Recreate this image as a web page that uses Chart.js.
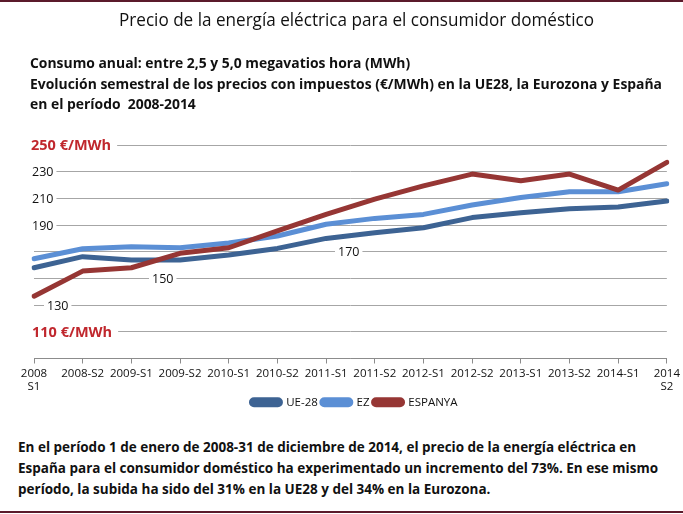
<!DOCTYPE html>
<html lang="es">
<head>
<meta charset="UTF-8" />
<title>Precio de la energía eléctrica</title>
<script src="https://cdn.jsdelivr.net/npm/chart.js"></script>
<style>
  html, body { margin: 0; padding: 0; background: #fff; }
  body { width: 683px; height: 514px; position: relative; overflow: hidden;
         font-family: "Open Sans", sans-serif; color: #111; }
  .frame { position: absolute; left: 0; width: 683px; height: 2px; background: #5b1a2b; }
  .txt { position: absolute; white-space: nowrap; z-index: 2; line-height: 1; transform-origin: 0 50%; }
  #title { left: 119px; top: 10px; font-size: 18.5px; }
  .sub { font-weight: bold; font-size: 15px; left: 30px; }
  .foot { font-weight: bold; font-size: 15px; left: 18px; }
  #wrap { position: absolute; left: 0; top: 0; width: 683px; height: 418px; }
</style>
</head>
<body>
  <div class="frame" style="top:0"></div>
  <div class="frame" style="top:511px"></div>

  <div class="txt" id="title">Precio de la energía eléctrica para el consumidor doméstico</div>
  <div class="txt sub" style="top:55px">Consumo anual: entre 2,5 y 5,0 megavatios hora (MWh)</div>
  <div class="txt sub" id="subRef" style="top:76px">Evolución semestral de los precios con impuestos (€/MWh) en la UE28, la Eurozona y España</div>
  <div class="txt sub" style="top:96px">en el período&nbsp; 2008-2014</div>

  <div class="txt foot" style="top:439px">En el período 1 de enero de 2008-31 de diciembre de 2014, el precio de la energía eléctrica en</div>
  <div class="txt foot" id="footRef" style="top:460px">España para el consumidor doméstico ha experimentado un incremento del 73%. En ese mismo</div>
  <div class="txt foot" style="top:481px">período, la subida ha sido del 31% en la UE28 y del 34% en la Eurozona.</div>

  <div id="wrap"><canvas id="chart"></canvas></div>

<script>
// datos (€/MWh)
const periodos = [['2008', 'S1'], '2008-S2', '2009-S1', '2009-S2', '2010-S1', '2010-S2', '2011-S1',
  '2011-S2', '2012-S1', '2012-S2', '2013-S1', '2013-S2', '2014-S1', ['2014', 'S2']];
const ue28    = [158, 166.3, 163.8, 163.8, 167.5, 172.5, 180, 184.3, 188, 195.6, 199.3, 202.3, 203.6, 208];
const ez      = [164.7, 172.3, 173.8, 173, 176.5, 181.8, 190.6, 195, 198, 205, 210.6, 215, 215, 221];
const espanya = [136.7, 155.5, 158, 168.8, 173, 185.6, 198, 209.4, 219.4, 228.2, 223.2, 228.2, 216.2, 237];
const yValores = [110, 130, 150, 170, 190, 210, 230, 250];
const yTextos  = ['110 €/MWh', '130', '150', '170', '190', '210', '230', '250 €/MWh'];

const FONT = '"Open Sans", sans-serif';
const ROJO = '#c0272d';

// estrechar los textos (la fuente original es más condensada) hasta el ancho del original
function ajustar(el, ancho, clase) {
  const k = ancho / el.getBoundingClientRect().width;
  document.querySelectorAll(clase).forEach(e => e.style.transform = 'scaleX(' + k + ')');
}
ajustar(document.getElementById('title'), 475, '#title');
ajustar(document.getElementById('subRef'), 632, '.sub');
ajustar(document.getElementById('footRef'), 640, '.foot');

// posición horizontal de cada etiqueta del eje Y (como en el original)
const yLabelX = { 110: 32, 130: 47, 150: 152, 170: 338, 190: 32, 210: 32, 230: 32, 250: 31 };

const etiquetasY = {
  id: 'etiquetasY',
  beforeDatasetsDraw(chart) {
    const ctx = chart.ctx;
    const y = chart.scales.y;
    ctx.save();
    ctx.textBaseline = 'middle';
    yValores.forEach((v, i) => {
      const txt = yTextos[i];
      const grande = txt.includes('€');
      ctx.font = (grande ? 'bold 14.5px ' : '12.5px ') + FONT;
      const py = y.getPixelForValue(v);
      const px = yLabelX[v];
      const w = ctx.measureText(txt).width;
      ctx.fillStyle = '#fff';
      ctx.fillRect(px - 3, py - 3, w + (grande ? 9 : 6), 6);
      ctx.fillStyle = grande ? ROJO : '#111';
      ctx.fillText(txt, px, py + 1);
    });
    ctx.restore();
  }
};

function serie(label, data, color, order) {
  return {
    label, data, order,
    borderColor: color, backgroundColor: color,
    borderWidth: 5, pointRadius: 0, tension: 0,
    borderCapStyle: 'round', borderJoinStyle: 'round'
  };
}

new Chart(document.getElementById('chart'), {
  type: 'line',
  data: {
    labels: periodos,
    datasets: [
      serie('UE-28', ue28, '#3d6393', 3),
      serie('EZ', ez, '#5b8fd5', 2),
      serie('ESPANYA', espanya, '#963634', 1)
    ]
  },
  options: {
    responsive: true,
    maintainAspectRatio: false,
    animation: false,
    layout: { padding: { left: 34, right: 8, top: 145, bottom: 0 } },
    plugins: {
      title: { display: false },
      tooltip: { enabled: false },
      legend: {
        position: 'bottom',
        labels: {
          color: '#111', font: { family: FONT, size: 11.5 },
          boxWidth: 29, boxHeight: 5, padding: 4,
          useBorderRadius: true, borderRadius: 2.5,
          sort: (a, b) => a.datasetIndex - b.datasetIndex
        }
      }
    },
    scales: {
      x: {
        afterFit: s => { s.height = 34; },
        grid: { drawOnChartArea: false, drawTicks: true, tickLength: 5, color: '#8c8c8c' },
        border: { color: '#8c8c8c' },
        ticks: { color: '#111', font: { family: FONT, size: 11.5 }, padding: 3,
                 maxRotation: 0, autoSkip: false }
      },
      y: {
        min: 90, max: 250,
        ticks: { stepSize: 20, display: false },
        grid: { color: '#a6a6a6', drawTicks: false },
        border: { display: false }
      }
    }
  },
  plugins: [etiquetasY]
});
</script>
</body>
</html>
